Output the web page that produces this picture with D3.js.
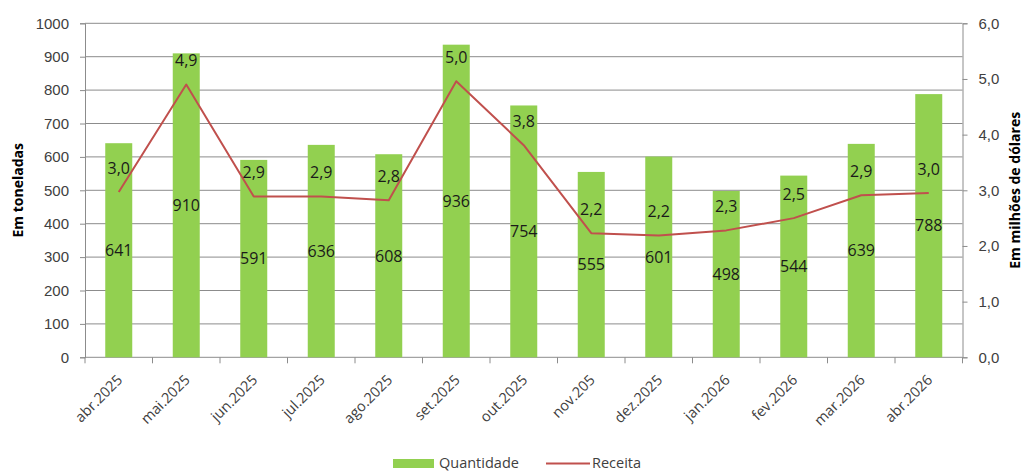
<!DOCTYPE html>
<html>
<head>
<meta charset="utf-8">
<script src="https://cdn.jsdelivr.net/npm/d3@7"></script>
<style>
  html, body { margin: 0; padding: 0; background: #fff; }
  svg { display: block; font-family: "Open Sans", "Liberation Sans", sans-serif; }
</style>
</head>
<body>
<svg id="chart" width="1025" height="471"></svg>
<script>
// Monthly exports: quantity (tonnes) and revenue (US$ millions)
const months = ["abr.2025","mai.2025","jun.2025","jul.2025","ago.2025","set.2025","out.2025","nov.205","dez.2025","jan.2026","fev.2026","mar.2026","abr.2026"];
const quantidade = [641, 910, 591, 636, 608, 936, 754, 555, 601, 498, 544, 639, 788];
const receita = [2.97, 4.90, 2.89, 2.89, 2.82, 4.96, 3.81, 2.23, 2.19, 2.28, 2.50, 2.91, 2.95];
const leftTicks = [0, 100, 200, 300, 400, 500, 600, 700, 800, 900, 1000];
const rightTicks = [0, 1, 2, 3, 4, 5, 6];

const svg = d3.select("#chart");
const plot = { left: 85, right: 962.5, top: 23.3, bottom: 357.3 };

const x = d3.scaleBand().domain(months).range([plot.left, plot.right])
  .paddingInner(0.6).paddingOuter(0.3);
const yL = d3.scaleLinear().domain([0, 1000]).range([plot.bottom, plot.top]);
const yR = d3.scaleLinear().domain([0, 6]).range([plot.bottom, plot.top]);
const fmt1 = v => d3.format(".1f")(v).replace(".", ",");

const gridColor = "#8c8c8c";
const tickText = "#404040";

// horizontal gridlines
svg.append("g").selectAll("line").data(leftTicks.filter(d => d > 0)).join("line")
  .attr("x1", plot.left).attr("x2", plot.right)
  .attr("y1", d => yL(d)).attr("y2", d => yL(d))
  .attr("stroke", gridColor).attr("stroke-width", 1);

// left axis
const axL = svg.append("g").attr("transform", `translate(${plot.left},0)`)
  .call(d3.axisLeft(yL).tickValues(leftTicks).tickSize(5).tickPadding(11).tickFormat(d3.format("d")));
// right axis
const axR = svg.append("g").attr("transform", `translate(${plot.right},0)`)
  .call(d3.axisRight(yR).tickValues(rightTicks).tickSize(5).tickPadding(11).tickFormat(fmt1));
// bottom axis: ticks at category boundaries
const boundaries = months.map((m, i) => plot.left + i * x.step()).concat([plot.right]);
const axB = svg.append("g").attr("transform", `translate(0,${plot.bottom})`);
axB.append("line").attr("x1", plot.left).attr("x2", plot.right).attr("stroke", gridColor);
axB.selectAll("line.tk").data(boundaries).join("line").attr("class", "tk")
  .attr("x1", d => d).attr("x2", d => d).attr("y1", 0).attr("y2", 6).attr("stroke", gridColor);

[axL, axR].forEach(a => {
  a.select(".domain").attr("stroke", gridColor);
  a.selectAll(".tick line").attr("stroke", gridColor);
  a.selectAll(".tick text").attr("fill", tickText).style("font-size", "15px");
});

// category labels, rotated
axB.selectAll("text").data(months).join("text")
  .attr("transform", d => `translate(${x(d) + x.bandwidth() / 2 + 1},${20}) rotate(-45)`)
  .attr("text-anchor", "end").attr("dy", "0.35em")
  .attr("fill", tickText).style("font-size", "14.5px")
  .text(d => d);

// bars
svg.append("g").selectAll("rect").data(months).join("rect")
  .attr("x", d => x(d)).attr("width", x.bandwidth())
  .attr("y", (d, i) => yL(quantidade[i]))
  .attr("height", (d, i) => yL(0) - yL(quantidade[i]))
  .attr("fill", "#92D050");

// revenue line
const line = d3.line().x((d, i) => x(months[i]) + x.bandwidth() / 2).y(d => yR(d));
svg.append("path").datum(receita).attr("d", line)
  .attr("fill", "none").attr("stroke", "#C0504D").attr("stroke-width", 2)
  .attr("stroke-linejoin", "round");

// quantity labels centred in bars
svg.append("g").selectAll("text").data(months).join("text")
  .attr("x", d => x(d) + x.bandwidth() / 2)
  .attr("y", (d, i) => (yL(quantidade[i]) + yL(0)) / 2)
  .attr("text-anchor", "middle").attr("dy", "0.36em")
  .attr("fill", "#1a1a1a").style("font-size", "16px")
  .text((d, i) => quantidade[i]);

// revenue labels above line points
svg.append("g").selectAll("text").data(months).join("text")
  .attr("x", d => x(d) + x.bandwidth() / 2)
  .attr("y", (d, i) => yR(receita[i]) - 24)
  .attr("text-anchor", "middle").attr("dy", "0.36em")
  .attr("fill", "#1a1a1a").style("font-size", "16px")
  .text((d, i) => fmt1(receita[i]));

// axis titles
svg.append("text")
  .attr("transform", `translate(23,${(plot.top + plot.bottom) / 2}) rotate(-90)`)
  .attr("text-anchor", "middle").attr("font-weight", "bold")
  .attr("fill", "#000").style("font-size", "14px")
  .text("Em toneladas");
svg.append("text")
  .attr("transform", `translate(1020,${(plot.top + plot.bottom) / 2}) rotate(-90)`)
  .attr("text-anchor", "middle").attr("font-weight", "bold")
  .attr("fill", "#000").style("font-size", "14px")
  .text("Em milhões de dólares");

// legend
const lg = svg.append("g");
lg.append("rect").attr("x", 393).attr("y", 459).attr("width", 41).attr("height", 9).attr("fill", "#92D050");
lg.append("text").attr("x", 439).attr("y", 463).attr("dy", "0.36em")
  .attr("fill", tickText).style("font-size", "14.5px").text("Quantidade");
lg.append("line").attr("x1", 546).attr("x2", 590).attr("y1", 463.5).attr("y2", 463.5)
  .attr("stroke", "#C0504D").attr("stroke-width", 2);
lg.append("text").attr("x", 592).attr("y", 463).attr("dy", "0.36em")
  .attr("fill", tickText).style("font-size", "14.5px").text("Receita");
</script>
</body>
</html>
